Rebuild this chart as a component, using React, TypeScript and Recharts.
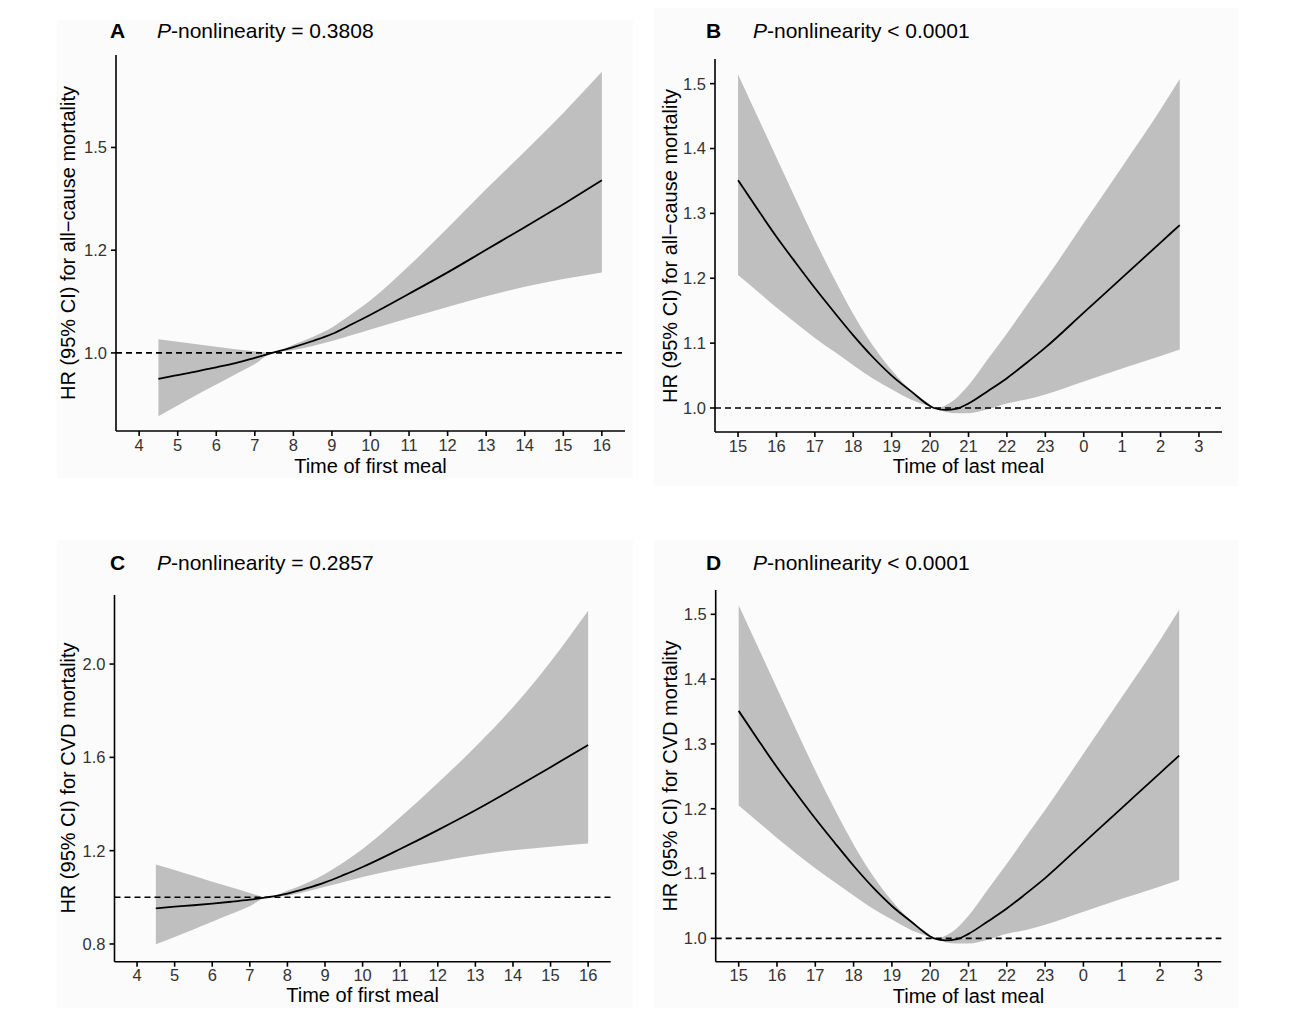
import React from 'react';
import {
  ComposedChart,
  Area,
  Line,
  XAxis,
  YAxis,
  ReferenceLine,
} from 'recharts';

/* ================= DATA ================= */
// time of first meal, hours
const firstMealHours = [4.5, 5, 5.5, 6, 6.5, 7, 7.45, 8, 8.5, 9, 9.5, 10, 11, 12, 13, 14, 15, 16];

// A: all-cause mortality by time of first meal
const allCauseFirstHR = [0.937, 0.946, 0.955, 0.965, 0.975, 0.988, 1.0, 1.014, 1.029, 1.046, 1.069, 1.093, 1.144, 1.196, 1.251, 1.306, 1.362, 1.42];
const allCauseFirstLower = [0.846, 0.872, 0.898, 0.923, 0.948, 0.973, 1.0, 1.007, 1.017, 1.029, 1.043, 1.057, 1.085, 1.112, 1.138, 1.161, 1.18, 1.196];
const allCauseFirstUpper = [1.033, 1.027, 1.021, 1.015, 1.009, 1.004, 1.0, 1.02, 1.039, 1.062, 1.094, 1.128, 1.212, 1.304, 1.399, 1.49, 1.584, 1.684];

// C: CVD mortality by time of first meal
const cvdFirstHR = [0.953, 0.96, 0.966, 0.973, 0.981, 0.99, 1.0, 1.016, 1.038, 1.064, 1.096, 1.13, 1.207, 1.288, 1.373, 1.464, 1.558, 1.653];
const cvdFirstLower = [0.799, 0.83, 0.862, 0.895, 0.928, 0.962, 1.0, 1.007, 1.025, 1.045, 1.066, 1.087, 1.123, 1.153, 1.18, 1.202, 1.217, 1.231];
const cvdFirstUpper = [1.141, 1.117, 1.092, 1.067, 1.043, 1.019, 1.0, 1.028, 1.06, 1.1, 1.15, 1.207, 1.343, 1.49, 1.645, 1.815, 2.01, 2.229];

// time of last meal, hours (24+ = after midnight)
const lastMealHours = [15, 15.5, 16, 16.5, 17, 17.5, 18, 18.5, 19, 19.5, 20, 20.1, 20.4, 20.7, 21, 21.5, 22, 22.5, 23, 24, 25, 26, 26.5];

// B: all-cause mortality by time of last meal
const allCauseLastHR = [1.351, 1.307, 1.264, 1.224, 1.185, 1.148, 1.112, 1.079, 1.05, 1.026, 1.003, 1.0, 0.997, 0.999, 1.007, 1.026, 1.046, 1.069, 1.093, 1.147, 1.201, 1.255, 1.282];
const allCauseLastLower = [1.205, 1.18, 1.155, 1.131, 1.108, 1.087, 1.066, 1.046, 1.029, 1.013, 1.002, 1.0, 0.994, 0.992, 0.992, 0.998, 1.007, 1.013, 1.021, 1.041, 1.061, 1.08, 1.09];
const allCauseLastUpper = [1.514, 1.45, 1.386, 1.322, 1.259, 1.2, 1.145, 1.097, 1.058, 1.027, 1.005, 1.0, 1.004, 1.016, 1.035, 1.075, 1.115, 1.157, 1.198, 1.285, 1.372, 1.46, 1.507];

// D: CVD mortality by time of last meal
const cvdLastHR = [1.351, 1.307, 1.264, 1.224, 1.185, 1.148, 1.112, 1.079, 1.05, 1.026, 1.003, 1.0, 0.997, 0.999, 1.007, 1.026, 1.046, 1.069, 1.093, 1.147, 1.201, 1.255, 1.282];
const cvdLastLower = [1.205, 1.18, 1.155, 1.131, 1.108, 1.087, 1.066, 1.046, 1.029, 1.013, 1.002, 1.0, 0.994, 0.992, 0.992, 0.998, 1.007, 1.013, 1.021, 1.041, 1.061, 1.08, 1.09];
const cvdLastUpper = [1.514, 1.45, 1.386, 1.322, 1.259, 1.2, 1.145, 1.097, 1.058, 1.027, 1.005, 1.0, 1.004, 1.016, 1.035, 1.075, 1.115, 1.157, 1.198, 1.285, 1.372, 1.46, 1.507];

// axis ticks
const firstMealTicks = [4, 5, 6, 7, 8, 9, 10, 11, 12, 13, 14, 15, 16];
const firstMealTickLabels = ['4', '5', '6', '7', '8', '9', '10', '11', '12', '13', '14', '15', '16'];
const lastMealTicks = [15, 16, 17, 18, 19, 20, 21, 22, 23, 24, 25, 26, 27];
const lastMealTickLabels = ['15', '16', '17', '18', '19', '20', '21', '22', '23', '0', '1', '2', '3'];

const allCauseFirstYTicks = [1.0, 1.25, 1.5];
const allCauseFirstYLabels = ['1.0', '1.2', '1.5'];
const cvdFirstYTicks = [0.8, 1.2, 1.6, 2.0];
const cvdFirstYLabels = ['0.8', '1.2', '1.6', '2.0'];
const lastYTicks = [1.0, 1.1, 1.2, 1.3, 1.4, 1.5];
const lastYLabels = ['1.0', '1.1', '1.2', '1.3', '1.4', '1.5'];

/* ================= HELPERS ================= */
const FONT = '"Liberation Sans", Arial, Helvetica, sans-serif';
const Y_AXIS_W = 50;
const X_AXIS_H = 30;
const PANEL_W = 652;
const PANEL_H = 506;
const TITLE_SIZE = 21;
const AXIS_TITLE_SIZE = 20;
const TICK_SIZE = 16.5;

const buildRows = (hours: number[], hr: number[], lo: number[], hi: number[]) =>
  hours.map((hour, i) => ({ hour, hr: hr[i], ci: [lo[i], hi[i]] }));

interface PanelProps {
  qx: number;
  qy: number;
  plot: { x0: number; x1: number; y0: number; y1: number };
  rows: { hour: number; hr: number; ci: number[] }[];
  xDomain: [number, number];
  xTicks: number[];
  xLabels: string[];
  yDomain: [number, number];
  yTicks: number[];
  yLabels: string[];
  letter: string;
  pText: string;
  titleX: number;
  titleY: number;
  xTitle: string;
  xTitleY: number;
  yTitle: string;
  yTitleX: number;
  bg: { x: number; y: number; w: number; h: number };
}

function Panel(p: PanelProps) {
  const margin = {
    left: p.plot.x0 - p.qx - Y_AXIS_W,
    right: p.qx + PANEL_W - p.plot.x1,
    top: p.plot.y0 - p.qy,
    bottom: p.qy + PANEL_H - p.plot.y1 - X_AXIS_H,
  };
  const xMid = (p.plot.x0 + p.plot.x1) / 2;
  const yMid = (p.plot.y0 + p.plot.y1) / 2;
  const tickStyle = { fill: '#333', fontSize: TICK_SIZE, fontFamily: FONT };

  return (
    <>
      <div
        style={{
          position: 'absolute',
          left: p.bg.x,
          top: p.bg.y,
          width: p.bg.w,
          height: p.bg.h,
          background: '#fbfbfb',
        }}
      />
      <div style={{ position: 'absolute', left: p.qx, top: p.qy }}>
        <ComposedChart width={PANEL_W} height={PANEL_H} data={p.rows} margin={margin}>
          <XAxis
            type="number"
            dataKey="hour"
            domain={p.xDomain}
            allowDataOverflow
            ticks={p.xTicks}
            interval={0}
            tickFormatter={(v: number) => p.xLabels[p.xTicks.indexOf(v)]}
            height={X_AXIS_H}
            tickSize={5}
            tickMargin={3}
            axisLine={{ stroke: '#000', strokeWidth: 1.6 }}
            tickLine={{ stroke: '#000', strokeWidth: 1.6 }}
            tick={tickStyle}
          />
          <YAxis
            type="number"
            domain={p.yDomain}
            allowDataOverflow
            ticks={p.yTicks}
            interval={0}
            tickFormatter={(v: number) => p.yLabels[p.yTicks.indexOf(v)]}
            width={Y_AXIS_W}
            tickSize={5}
            tickMargin={4}
            axisLine={{ stroke: '#000', strokeWidth: 1.6 }}
            tickLine={{ stroke: '#000', strokeWidth: 1.6 }}
            tick={tickStyle}
          />
          <Area
            type="monotone"
            dataKey="ci"
            fill="#bfbfbf"
            fillOpacity={1}
            stroke="none"
            isAnimationActive={false}
          />
          <ReferenceLine y={1} stroke="#000" strokeWidth={1.6} strokeDasharray="6 4" />
          <Line
            type="monotone"
            dataKey="hr"
            stroke="#000"
            strokeWidth={1.8}
            dot={false}
            isAnimationActive={false}
          />
        </ComposedChart>
      </div>

      {/* panel letter and P value */}
      <div
        style={{
          position: 'absolute',
          left: p.titleX - 47,
          top: p.titleY - TITLE_SIZE * 0.49,
          fontFamily: FONT,
          fontSize: TITLE_SIZE,
          lineHeight: `${TITLE_SIZE}px`,
          fontWeight: 'bold',
          color: '#000',
        }}
      >
        {p.letter}
      </div>
      <div
        style={{
          position: 'absolute',
          left: p.titleX,
          top: p.titleY - TITLE_SIZE * 0.49,
          fontFamily: FONT,
          fontSize: TITLE_SIZE,
          lineHeight: `${TITLE_SIZE}px`,
          color: '#000',
          whiteSpace: 'nowrap',
        }}
      >
        <i>P</i>
        {p.pText}
      </div>

      {/* axis titles */}
      <div
        style={{
          position: 'absolute',
          left: xMid,
          top: p.xTitleY - AXIS_TITLE_SIZE * 0.5,
          transform: 'translateX(-50%)',
          fontFamily: FONT,
          fontSize: AXIS_TITLE_SIZE,
          lineHeight: `${AXIS_TITLE_SIZE}px`,
          color: '#000',
          whiteSpace: 'nowrap',
        }}
      >
        {p.xTitle}
      </div>
      <div
        style={{
          position: 'absolute',
          left: p.yTitleX,
          top: yMid,
          transform: 'translate(-50%, -50%) rotate(-90deg)',
          fontFamily: FONT,
          fontSize: AXIS_TITLE_SIZE,
          lineHeight: `${AXIS_TITLE_SIZE}px`,
          color: '#000',
          whiteSpace: 'nowrap',
        }}
      >
        {p.yTitle}
      </div>
    </>
  );
}

/* ================= APP ================= */
export default function App() {
  const rowsA = buildRows(firstMealHours, allCauseFirstHR, allCauseFirstLower, allCauseFirstUpper);
  const rowsB = buildRows(lastMealHours, allCauseLastHR, allCauseLastLower, allCauseLastUpper);
  const rowsC = buildRows(firstMealHours, cvdFirstHR, cvdFirstLower, cvdFirstUpper);
  const rowsD = buildRows(lastMealHours, cvdLastHR, cvdLastLower, cvdLastUpper);

  return (
    <div
      style={{
        position: 'absolute',
        left: 0,
        top: 0,
        width: 1304,
        height: 1012,
        background: '#fff',
        overflow: 'hidden',
      }}
    >
      <Panel
        qx={0}
        qy={0}
        plot={{ x0: 116, x1: 625, y0: 55, y1: 431 }}
        rows={rowsA}
        xDomain={[3.4, 16.6]}
        xTicks={firstMealTicks}
        xLabels={firstMealTickLabels}
        yDomain={[0.81, 1.725]}
        yTicks={allCauseFirstYTicks}
        yLabels={allCauseFirstYLabels}
        letter="A"
        pText="-nonlinearity = 0.3808"
        titleX={157}
        titleY={30}
        xTitle="Time of first meal"
        xTitleY={466}
        yTitle="HR (95% CI) for all−cause mortality"
        yTitleX={68}
        bg={{ x: 57, y: 20, w: 576, h: 458 }}
      />
      <Panel
        qx={652}
        qy={0}
        plot={{ x0: 715, x1: 1222, y0: 59, y1: 432 }}
        rows={rowsB}
        xDomain={[14.4, 27.6]}
        xTicks={lastMealTicks}
        xLabels={lastMealTickLabels}
        yDomain={[0.963, 1.538]}
        yTicks={lastYTicks}
        yLabels={lastYLabels}
        letter="B"
        pText="-nonlinearity < 0.0001"
        titleX={753}
        titleY={30}
        xTitle="Time of last meal"
        xTitleY={466}
        yTitle="HR (95% CI) for all−cause mortality"
        yTitleX={670}
        bg={{ x: 654, y: 8, w: 584, h: 478 }}
      />
      <Panel
        qx={0}
        qy={506}
        plot={{ x0: 114.5, x1: 610.7, y0: 595, y1: 961.7 }}
        rows={rowsC}
        xDomain={[3.4, 16.6]}
        xTicks={firstMealTicks}
        xLabels={firstMealTickLabels}
        yDomain={[0.724, 2.296]}
        yTicks={cvdFirstYTicks}
        yLabels={cvdFirstYLabels}
        letter="C"
        pText="-nonlinearity = 0.2857"
        titleX={157}
        titleY={562}
        xTitle="Time of first meal"
        xTitleY={995}
        yTitle="HR (95% CI) for CVD mortality"
        yTitleX={68}
        bg={{ x: 57, y: 540, w: 576, h: 468 }}
      />
      <Panel
        qx={652}
        qy={506}
        plot={{ x0: 715.7, x1: 1221.3, y0: 590, y1: 961.7 }}
        rows={rowsD}
        xDomain={[14.4, 27.6]}
        xTicks={lastMealTicks}
        xLabels={lastMealTickLabels}
        yDomain={[0.964, 1.5375]}
        yTicks={lastYTicks}
        yLabels={lastYLabels}
        letter="D"
        pText="-nonlinearity < 0.0001"
        titleX={753}
        titleY={562}
        xTitle="Time of last meal"
        xTitleY={996}
        yTitle="HR (95% CI) for CVD mortality"
        yTitleX={670}
        bg={{ x: 654, y: 540, w: 584, h: 468 }}
      />
    </div>
  );
}
